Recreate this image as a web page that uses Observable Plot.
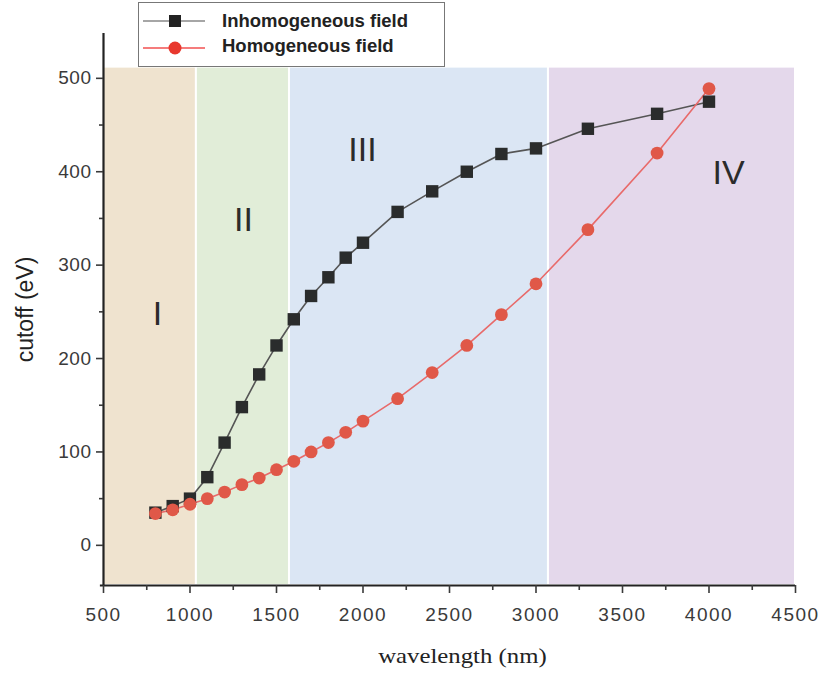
<!DOCTYPE html>
<html>
<head>
<meta charset="utf-8">
<script src="https://cdn.jsdelivr.net/npm/d3@7"></script>
<script src="https://cdn.jsdelivr.net/npm/@observablehq/plot@0.6"></script>
<style>
  html, body { margin: 0; padding: 0; background: #fff; }
  #wrap { position: relative; width: 821px; height: 675px; }
  #legend {
    position: absolute; left: 138px; top: 2px; width: 307px; height: 65px;
    border: 1px solid #777; background: #fff; box-sizing: border-box;
    font-family: "Liberation Sans", Arial, sans-serif; font-weight: bold; font-size: 18.5px; color: #222;
  }
  .entry { position: absolute; left: 0; height: 22px; width: 300px; }
  .entry svg { position: absolute; left: 4px; top: 0; }
  .entry span { position: absolute; left: 83px; top: 0px; line-height: 22px; }
  #xlabel {
    position: absolute; left: 375px; width: 174px; top: 644px; text-align: center;
    font-family: "Liberation Serif", "Times New Roman", serif; font-size: 21px; color: #222;
    white-space: nowrap;
  }
  #xlabel span { display: inline-block; transform: scaleX(1.18); }
</style>
</head>
<body>
<div id="wrap"></div>
<script>
// Data
const wavelength = [800, 900, 1000, 1100, 1200, 1300, 1400, 1500, 1600, 1700, 1800, 1900, 2000, 2200, 2400, 2600, 2800, 3000, 3300, 3700, 4000];
const inhomogeneous = [35, 42, 50, 73, 110, 148, 183, 214, 242, 267, 287, 308, 324, 357, 379, 400, 419, 425, 446, 462, 475];
const homogeneous = [34, 38, 44, 50, 57, 65, 72, 81, 90, 100, 110, 121, 133, 157, 185, 214, 247, 280, 338, 420, 489];
const regionNames = ["I", "II", "III", "IV"];
const regionStart = [500, 1037, 1575, 3072];
const regionEnd = [1037, 1575, 3072, 4500];
const regionColors = ["#efe3cf", "#e1edd8", "#dbe6f4", "#e4d8eb"];
const regionLabelX = [812, 1309, 1997, 4113];
const regionLabelY = [248, 348, 423, 399];
const xTicks = [500, 1000, 1500, 2000, 2500, 3000, 3500, 4000, 4500];
const xMinor = [750, 1250, 1750, 2250, 2750, 3250, 3750, 4250];
const yTicks = [0, 100, 200, 300, 400, 500];
const yMinor = [50, 150, 250, 350, 450];
const seriesNames = ["Inhomogeneous field", "Homogeneous field"];

const regions = regionNames.map((n, i) => ({name: n, x1: regionStart[i], x2: regionEnd[i], fill: regionColors[i], lx: regionLabelX[i], ly: regionLabelY[i]}));
const inh = wavelength.map((w, i) => ({w, v: inhomogeneous[i]}));
const hom = wavelength.map((w, i) => ({w, v: homogeneous[i]}));

const sans = "'Liberation Sans', Arial, sans-serif";

const chart = Plot.plot({
  width: 821,
  height: 675,
  marginLeft: 103,
  marginRight: 26,
  marginTop: 33,
  marginBottom: 90,
  style: {background: "#fff", fontFamily: sans},
  x: {domain: [500, 4500], axis: null},
  y: {domain: [-43, 548], axis: null},
  marks: [
    Plot.rect(regions, {x1: "x1", x2: "x2", y1: -43, y2: 512, fill: "fill", stroke: "#fff", strokeWidth: 2}),
    Plot.text(regions, {x: "lx", y: "ly", text: "name", fontSize: 34, fill: "#2b2b2b", fontFamily: sans}),
    Plot.line(inh, {x: "w", y: "v", stroke: "#555", strokeWidth: 1.6}),
    Plot.line(hom, {x: "w", y: "v", stroke: "#e86a6a", strokeWidth: 1.6}),
    Plot.dot(inh, {x: "w", y: "v", symbol: "square", r: 7, fill: "#2a2c2c", stroke: "none"}),
    Plot.dot(hom, {x: "w", y: "v", symbol: "circle", r: 6.4, fill: "#e05848", stroke: "none"}),
    Plot.ruleX([500], {y1: -43, y2: 548, stroke: "#222", strokeWidth: 2.2}),
    Plot.ruleY([-43], {x1: 482, x2: 4500, stroke: "#222", strokeWidth: 2.2}),
    Plot.axisY(yTicks, {anchor: "left", tickSize: 7, tickPadding: 5, fontSize: 19, color: "#3a3a3a", fontFamily: sans, label: null, strokeWidth: 1.6}),
    Plot.axisY(yMinor, {anchor: "left", tickSize: 4, tickFormat: () => "", color: "#3a3a3a", label: null, strokeWidth: 1.6}),
    Plot.axisX(xTicks, {anchor: "bottom", tickSize: 8, tickPadding: 14, fontSize: 19, color: "#3a3a3a", fontFamily: sans, label: null, tickFormat: d3.format("d"), strokeWidth: 1.6}),
    Plot.axisX(xMinor, {anchor: "bottom", tickSize: 5, tickFormat: () => "", color: "#3a3a3a", label: null, strokeWidth: 1.6}),
    Plot.text(["cutoff (eV)"], {frameAnchor: "left", textAnchor: "middle", dx: -78, rotate: -90, fontSize: 23, fill: "#222", fontFamily: sans})
  ]
});

const wrap = document.getElementById("wrap");
wrap.appendChild(chart);
// widen tick label glyph spacing like the reference
chart.querySelectorAll('g[aria-label="x-axis tick label"] text').forEach(t => t.setAttribute("letter-spacing", "1.5"));
chart.querySelectorAll('g[aria-label="y-axis tick label"] text').forEach(t => t.setAttribute("letter-spacing", "0.5"));

// Legend
const legend = document.createElement("div");
legend.id = "legend";
const legendStyles = [
  {stroke: "#888", fill: "#222", shape: "square"},
  {stroke: "#f25050", fill: "#e8382e", shape: "circle"}
];
seriesNames.forEach((name, i) => {
  const e = document.createElement("div");
  e.className = "entry";
  e.style.top = (i === 0 ? 7 : 32) + "px";
  const st = legendStyles[i];
  const ly = i === 0 ? 11 : 13;
  const marker = st.shape === "square"
    ? `<rect x="26" y="${ly-6}" width="12" height="12" fill="${st.fill}"/>`
    : `<circle cx="32" cy="${ly}" r="6.5" fill="${st.fill}"/>`;
  e.innerHTML = `<svg width="64" height="24"><line x1="0" x2="62" y1="${ly}" y2="${ly}" stroke="${st.stroke}" stroke-width="1.5"/>${marker}</svg><span>${name}</span>`;
  legend.appendChild(e);
});
wrap.appendChild(legend);

const xl = document.createElement("div");
xl.id = "xlabel";
xl.innerHTML = "<span>wavelength (nm)</span>";
wrap.appendChild(xl);
</script>
</body>
</html>
